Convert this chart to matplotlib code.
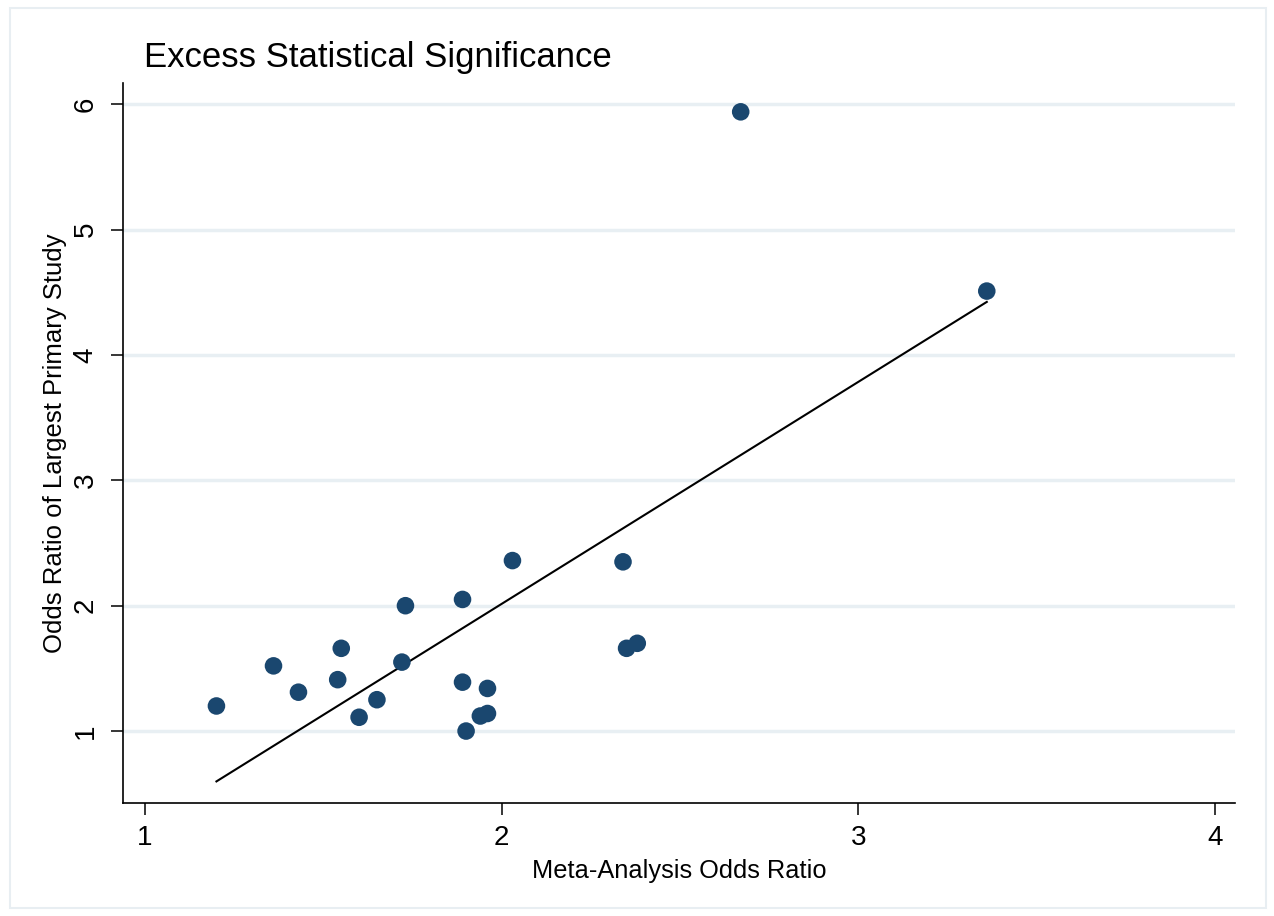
import numpy as np
import matplotlib
matplotlib.use('Agg')
import matplotlib.pyplot as plt
from matplotlib.patches import Rectangle

# Datos (odds ratio del meta-analisis vs. estudio primario mas grande)
meta_or = [1.20, 1.36, 1.43, 1.54, 1.55, 1.60, 1.65, 1.72, 1.73, 1.89, 1.89,
           1.90, 1.94, 1.96, 1.96, 2.03, 2.34, 2.35, 2.38, 2.67, 3.36]
largest_or = [1.20, 1.52, 1.31, 1.41, 1.66, 1.11, 1.25, 1.55, 2.00, 2.05, 1.39,
              1.00, 1.12, 1.14, 1.34, 2.36, 2.35, 1.66, 1.70, 5.94, 4.51]
x_ticks = [1, 2, 3, 4]
y_ticks = [1, 2, 3, 4, 5, 6]

plt.rcParams['font.family'] = ['Liberation Sans', 'DejaVu Sans']

fig = plt.figure(figsize=(12.74, 9.16), dpi=100)
ax = fig.add_axes([123 / 1274, 1 - 803 / 916, (1235 - 123) / 1274, (803 - 83) / 916])

# recta de regresion (MCO) entre el minimo y maximo de x
x = np.array(meta_or)
y = np.array(largest_or)
b, a = np.polyfit(x, y, 1)
xs = np.array([x.min(), x.max()])
ax.plot(xs, a + b * xs, color='black', lw=1.5, zorder=2)

ax.scatter(x, y, s=160, color='#1a476f', edgecolors='none', zorder=3)

ax.set_xlim(0.938, 4.056)
ax.set_ylim(0.426, 6.17)
ax.set_xticks(x_ticks)
ax.set_yticks(y_ticks)
ax.set_yticklabels([str(t) for t in y_ticks], rotation=90, va='center')
ax.tick_params(axis='both', direction='out', length=8.5, width=1.1, labelsize=20, colors='black')
ax.tick_params(axis='x', pad=7)
ax.tick_params(axis='y', pad=9)

# lineas de cuadricula horizontales
for t in y_ticks:
    ax.axhline(t, color='#e8eff3', lw=2.5, zorder=1)

ax.spines['top'].set_visible(False)
ax.spines['right'].set_visible(False)
ax.spines['left'].set_linewidth(1.2)
ax.spines['bottom'].set_linewidth(1.2)

ax.set_xlabel('Meta-Analysis Odds Ratio', fontsize=18.3, labelpad=6)
ax.set_ylabel('Odds Ratio of Largest Primary Study', fontsize=18.5, labelpad=4)

fig.text(144 / 1274, 1 - 58 / 916, 'Excess Statistical Significance', fontsize=25,
         ha='left', va='center')

# borde exterior claro
fig.patches.append(Rectangle((10 / 1274, 8 / 916), 1256 / 1274, 900 / 916,
                             transform=fig.transFigure, fill=False,
                             edgecolor='#e8eef2', lw=1.5))

fig.savefig('out.png', dpi=100, facecolor='white')
